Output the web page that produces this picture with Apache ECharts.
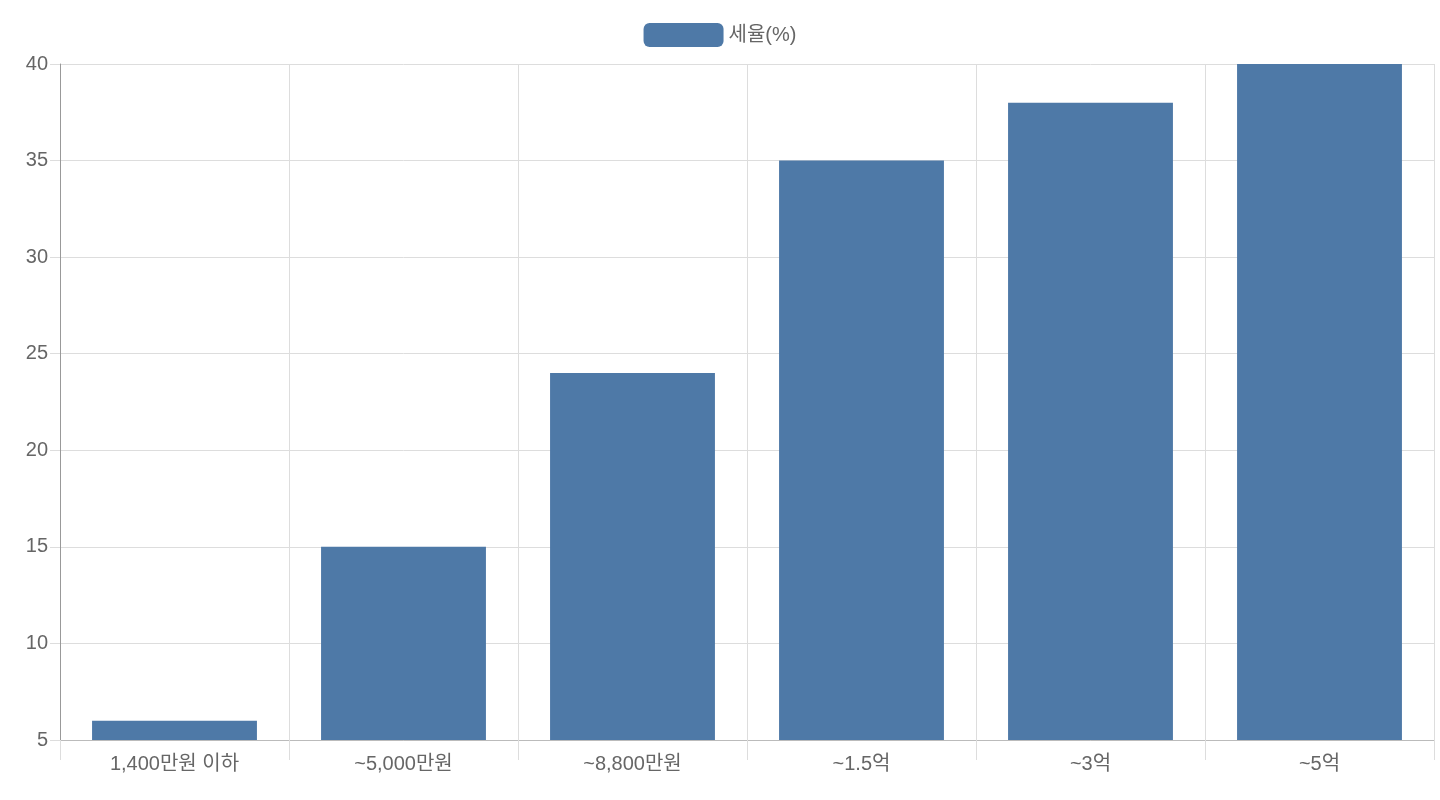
<!DOCTYPE html>
<html><head><meta charset="utf-8">
<script src="https://cdn.jsdelivr.net/npm/echarts@6/dist/echarts.min.js"></script>
<style>html,body{margin:0;background:#fff}#c{width:1440px;height:800px}</style>
</head><body><div id="c"></div>
<script>
var categories = ['1,400만원 이하', '~5,000만원', '~8,800만원', '~1.5억', '~3억', '~5억'];
var taxRates = [6, 15, 24, 35, 38, 40];
var seriesName = '세율(%)';

var chart = echarts.init(document.getElementById('c'));
var font = '"Liberation Sans", "Noto Sans CJK KR", sans-serif';
chart.setOption({
  animation: false,
  textStyle: { fontFamily: font },
  legend: {
    top: 18, left: 'center', itemWidth: 80, itemHeight: 24, itemGap: 10,
    textStyle: { color: '#666', fontSize: 20, fontFamily: font },
    data: [seriesName]
  },
  grid: { left: 60, right: 6, top: 64, bottom: 60 },
  xAxis: {
    type: 'category', data: categories, boundaryGap: true,
    axisLine: { lineStyle: { color: '#bbb' } },
    axisTick: { show: true, length: 20, interval: 0, lineStyle: { color: '#ddd' } },
    splitLine: { show: true, interval: 0, lineStyle: { color: '#ddd' } },
    axisLabel: { color: '#666', fontSize: 20, margin: 14, interval: 0 }
  },
  yAxis: {
    type: 'value', min: 5, max: 40, interval: 5,
    axisLine: { show: true, lineStyle: { color: '#999' } },
    axisTick: { show: true, length: 10, lineStyle: { color: '#ddd' } },
    splitLine: { lineStyle: { color: '#ddd' } },
    axisLabel: { color: '#666', fontSize: 20, margin: 12 }
  },
  series: [{
    name: seriesName, type: 'bar', data: taxRates, barWidth: '72%',
    itemStyle: { color: '#4e79a7' }
  }]
});
</script></body></html>
